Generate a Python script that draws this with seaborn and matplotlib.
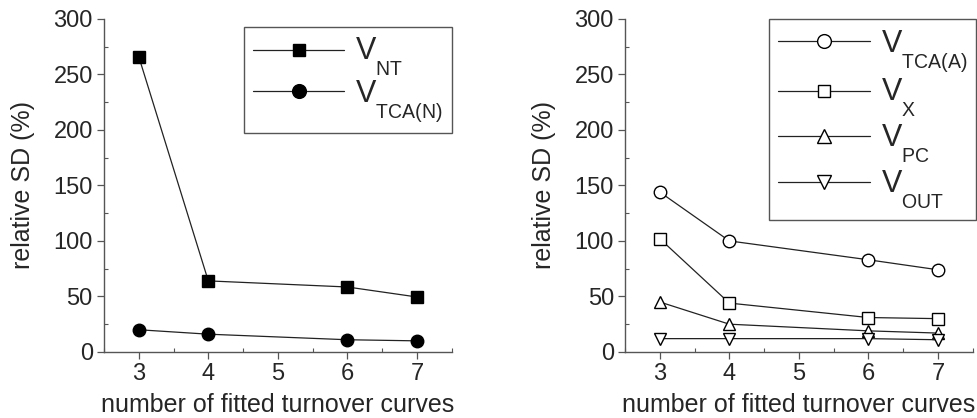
import numpy as np
import pandas as pd
import matplotlib
matplotlib.use("Agg")
import matplotlib.pyplot as plt
import seaborn as sns
from matplotlib.ticker import MultipleLocator

# ---- data ----
n_curves = [3, 4, 6, 7]
v_nt = [266, 64, 58.5, 49.5]
v_tca_n = [20, 16, 11, 10]
v_tca_a = [144, 100, 83, 74]
v_x = [102, 44, 31, 30]
v_pc = [45, 25, 19, 17]
v_out = [12, 12, 12, 11]
xticks = [3, 4, 5, 6, 7]
yticks = [0, 50, 100, 150, 200, 250, 300]

sns.set_style("ticks")
plt.rcParams['font.family'] = ['Liberation Sans', 'DejaVu Sans']
plt.rcParams['mathtext.fontset'] = 'custom'
plt.rcParams['mathtext.rm'] = 'Liberation Sans'
plt.rcParams['mathtext.it'] = 'Liberation Sans'
plt.rcParams['mathtext.bf'] = 'Liberation Sans'
plt.rcParams['mathtext.default'] = 'regular'

# lower and shrink subscripts like the original figure
try:
    import matplotlib._mathtext as _mt
    _mt.SHRINK_FACTOR = 0.64
    _mt.FontConstantsBase.sub1 = 0.95
    _mt.FontConstantsBase.script_space = 0.1
except Exception:
    pass

AX_COL = '#555555'

fig = plt.figure(figsize=(9.77, 4.18), dpi=100)
ax1 = fig.add_axes([0.1064, 0.158, 0.356, 0.797])
ax2 = fig.add_axes([0.6397, 0.158, 0.356, 0.797])

left_series = [
    (r'V$_{NT}$', v_nt, 's', 'black'),
    (r'V$_{TCA(N)}$', v_tca_n, 'o', 'black'),
]
right_series = [
    (r'V$_{TCA(A)}$', v_tca_a, 'o', 'white'),
    (r'V$_{X}$', v_x, 's', 'white'),
    (r'V$_{PC}$', v_pc, '^', 'white'),
    (r'V$_{OUT}$', v_out, 'v', 'white'),
]

def draw(ax, series, legend_bbox, spacing):
    for label, vals, mk, fc in series:
        df = pd.DataFrame({'x': n_curves, 'y': vals})
        sns.lineplot(data=df, x='x', y='y', ax=ax, color='#222222', lw=0.9,
                     marker=mk, markersize=9 if mk in 'o^v' else 8,
                     markerfacecolor=fc, markeredgecolor='black',
                     markeredgewidth=1.0, label=label)
    ax.set_xlim(2.5, 7.5)
    ax.set_ylim(0, 300)
    ax.set_xticks(xticks)
    ax.set_yticks(yticks)
    ax.xaxis.set_minor_locator(MultipleLocator(0.5))
    ax.yaxis.set_minor_locator(MultipleLocator(25))
    ax.tick_params(axis='both', which='major', direction='out', length=5,
                   width=0.9, color=AX_COL, labelsize=17, pad=3)
    ax.tick_params(axis='both', which='minor', direction='in', length=3,
                   width=0.8, color=AX_COL)
    for s in ['top', 'right']:
        ax.spines[s].set_visible(False)
    for s in ['left', 'bottom']:
        ax.spines[s].set_color(AX_COL)
        ax.spines[s].set_linewidth(1.0)
    ax.set_xlabel('number of fitted turnover curves', fontsize=18, labelpad=6)
    ax.set_ylabel('relative SD (%)', fontsize=18, labelpad=13)
    leg = ax.legend(loc='upper right', bbox_to_anchor=legend_bbox,
                    fontsize=22, frameon=True, fancybox=False, framealpha=1,
                    edgecolor=AX_COL, handlelength=3.0, handletextpad=0.35,
                    labelspacing=spacing, borderpad=0.3, borderaxespad=0,
                    markerscale=1.1)
    leg.get_frame().set_linewidth(1.0)

draw(ax1, left_series, (1.0, 0.975), 0.0)
draw(ax2, right_series, (1.01, 1.0), 0.12)

fig.savefig('out.png', dpi=100)
